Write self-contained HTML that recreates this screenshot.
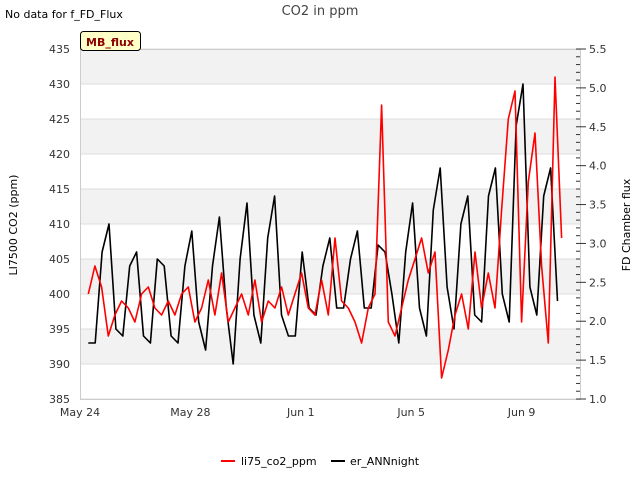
<!DOCTYPE html>
<html><head><meta charset="utf-8"><style>
body{margin:0;background:#fff;font-family:"Liberation Sans","DejaVu Sans",sans-serif}
svg text{font-family:"DejaVu Sans","Liberation Sans",sans-serif}
</style></head><body>
<svg id="c" width="640" height="480">
<text x="5" y="18" font-size="11" fill="#000">No data for f_FD_Flux</text>
<text x="320" y="15" font-size="13" fill="#444" text-anchor="middle">CO2 in ppm</text>
<g id="grid"></g>
<g id="series"></g>
<g id="axes"></g>
<rect x="80.5" y="31.5" width="60" height="19" rx="3" fill="#ffffc8" stroke="#000"/>
<text x="110" y="46" font-size="11" font-weight="bold" fill="#8b0000" text-anchor="middle">MB_flux</text>
<text transform="translate(17,225) rotate(-90)" font-size="11" text-anchor="middle">LI7500 CO2 (ppm)</text>
<text transform="translate(630,225) rotate(-90)" font-size="11" text-anchor="middle">FD Chamber flux</text>
<g>
<line x1="221" y1="461" x2="235" y2="461" stroke="#f00" stroke-width="2"/>
<text x="241" y="465" font-size="11">li75_co2_ppm</text>
<line x1="331" y1="461" x2="345" y2="461" stroke="#000" stroke-width="2"/>
<text x="350" y="465" font-size="11">er_ANNnight</text>
</g>
</svg>
<script>
const leftTicks=[385,390,395,400,405,410,415,420,425,430,435];
const rightTicks=[1.0,1.5,2.0,2.5,3.0,3.5,4.0,4.5,5.0,5.5];
const xTickLabels=["May 24","May 28","Jun 1","Jun 5","Jun 9"];
const xTickDays=[0,4,8,12,16];
const blackValues=[1.72,1.72,2.89,3.25,1.9,1.81,2.71,2.89,1.81,1.72,2.8,2.71,1.81,1.72,2.71,3.16,1.99,1.63,2.71,3.34,2.17,1.45,2.8,3.52,2.08,1.72,3.07,3.61,2.08,1.81,1.81,2.89,2.17,2.08,2.71,3.07,2.17,2.17,2.8,3.16,2.17,2.17,2.98,2.89,2.35,1.72,2.89,3.52,2.17,1.81,3.43,3.97,2.44,1.9,3.25,3.61,2.08,1.99,3.61,3.97,2.35,1.99,4.51,5.05,2.44,2.08,3.61,3.97,2.26];
const redValues=[400,404,401,394,397,399,398,396,400,401,398,397,399,397,400,401,396,398,402,397,403,396,398,400,397,402,396,399,398,401,397,400,403,398,397,402,397,408,399,398,396,393,398,400,427,396,394,398,402,405,408,403,406,388,392,397,400,395,406,398,403,398,412,425,429,396,416,423,404,393,431,408];
const X0=80,X1=580,Y0=49,Y1=399;
const dayStart=0.3,blackEnd=17.3,redEnd=17.45;
const xs=d=>X0+d*27.6;
const yl=v=>Y1-(v-385)*(Y1-Y0)/50;
const yr=v=>Y1-(v-1)*(Y1-Y0)/4.5;
const NS="http://www.w3.org/2000/svg";
function mk(t,a,p){const e=document.createElementNS(NS,t);for(const k in a)e.setAttribute(k,a[k]);p.appendChild(e);return e;}
const grid=document.getElementById('grid'),axes=document.getElementById('axes'),ser=document.getElementById('series');
for(let i=0;i<leftTicks.length-1;i++){if(i%2===1){const r=mk('rect',{x:X0,y:yl(leftTicks[i+1]),width:X1-X0,height:yl(leftTicks[i])-yl(leftTicks[i+1]),fill:'#f2f2f2'},grid);

}}
leftTicks.forEach(v=>{const l=mk('line',{x1:X0,x2:X1,y1:yl(v),y2:yl(v),stroke:'#ddd'},grid);


const t=mk('text',{x:X0-10,y:yl(v)+4,'font-size':11,'text-anchor':'end',fill:'#333'},axes);t.textContent=v;

});
mk('rect',{x:X0+0.5,y:Y0+0.5,width:X1-X0,height:Y1-Y0,fill:'none',stroke:'#ccc'},axes);
rightTicks.forEach(v=>{mk('line',{x1:X1,x2:X1+6,y1:yr(v),y2:yr(v),stroke:'#333'},axes);
const t=mk('text',{x:X1+9,y:yr(v)+4,'font-size':11,fill:'#333'},axes);t.textContent=v.toFixed(1);

});
for(let v=1;v<=5.5;v+=0.1){mk('line',{x1:X1-4,x2:X1,y1:yr(v),y2:yr(v),stroke:'#333'},axes);}
xTickLabels.forEach((s,i)=>{const t=mk('text',{x:xs(xTickDays[i]),y:Y1+17,'font-size':11,'text-anchor':'middle',fill:'#333'},axes);t.textContent=s;

});
function path(vals,end,yf,col,name){const st=(end-dayStart)/(vals.length-1);
const d=vals.map((v,i)=>(i?'L':'M')+xs(dayStart+i*st).toFixed(1)+','+yf(v).toFixed(1)).join('');
const p=mk('path',{d:d,fill:'none',stroke:col,'stroke-width':1.6,'stroke-linejoin':'round'},ser);

}
path(blackValues,blackEnd,yr,'#000','er-annnight-line');
path(redValues,redEnd,yl,'#f00','li75-co2-line');
</script>
</body></html>
